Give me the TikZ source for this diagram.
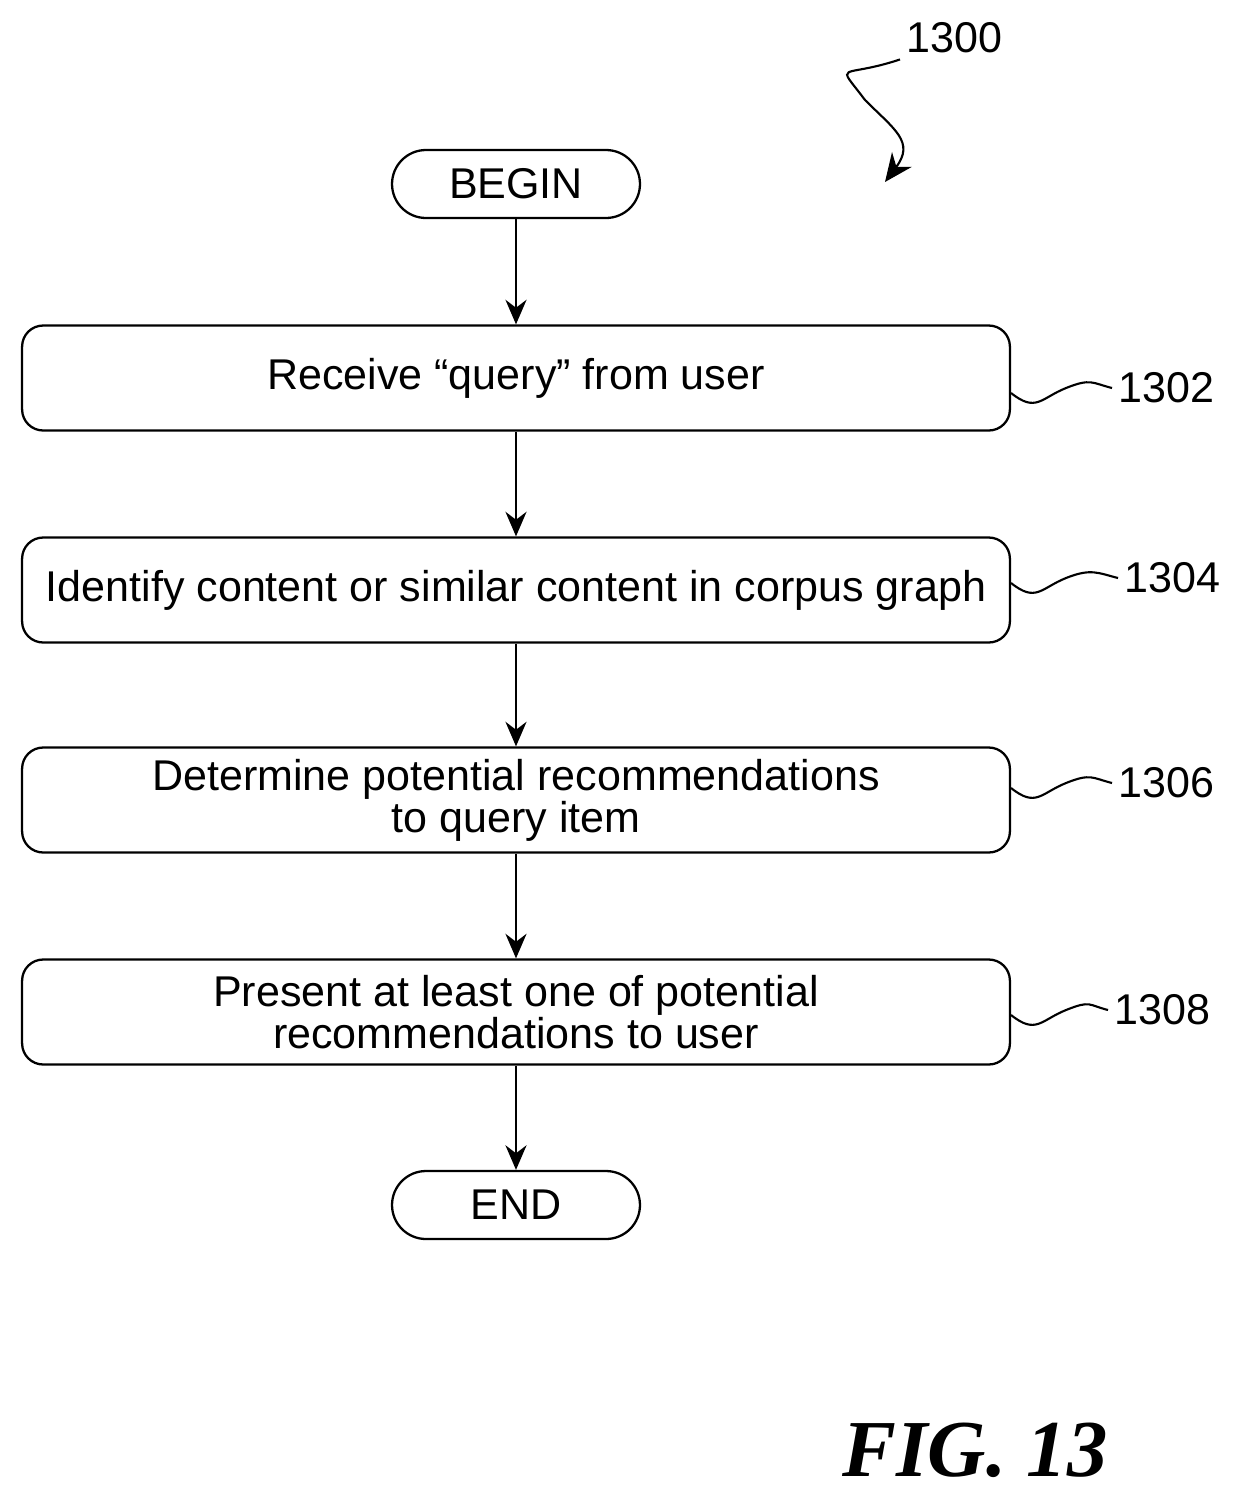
\documentclass[tikz,border=0pt]{standalone}
\usepackage{fontspec}
\setmainfont{Liberation Sans}
\newfontfamily\figfont{Liberation Serif}
\usetikzlibrary{positioning,arrows.meta}
\begin{document}
\begin{tikzpicture}[x=0.02cm,y=-0.02cm,
	stepbox/.style={draw, line width=1.3pt, rounded corners=12pt, minimum width=19.76cm, minimum height=2.1cm, align=center, font=\fontsize{24.5}{28}\selectfont},
	term/.style={draw, line width=1.3pt, rounded corners=0.68cm, minimum width=4.96cm, minimum height=1.36cm, font=\fontsize{24.5}{28}\selectfont},
	flow/.style={line width=1.3pt, -{Stealth[length=14pt,width=12pt]}},
	wave/.style={line width=1.2pt},
	tag/.style={font=\fontsize{24.5}{28}\selectfont}]
	\useasboundingbox (0,0) rectangle (1235,1498);
	
	\node[term] (begin) at (516,184) {BEGIN};
	\node[stepbox] (s1302) at (516,378) {Receive “query” from user};
	\node[stepbox] (s1304) at (516,590) {Identify content or similar content in corpus graph};
	\node[stepbox] (s1306) at (516,800) {Determine potential recommendations\\[-4pt]to query item};
	\node[stepbox] (s1308) at (516,1012) {Present at least one of potential\\[-4pt]recommendations to user};
	\node[term] (end) at (516,1205) {END};
	
	\draw[flow] (begin) -- (s1302);
	\draw[flow] (s1302) -- (s1304);
	\draw[flow] (s1304) -- (s1306);
	\draw[flow] (s1306) -- (s1308);
	\draw[flow] (s1308) -- (end);
	
	% reference numerals
	\node[tag, anchor=west] (t1302) at (1112,388) {1302};
	\node[tag, anchor=west] (t1304) at (1118,578) {1304};
	\node[tag, anchor=west] (t1306) at (1112,783) {1306};
	\node[tag, anchor=west] (t1308) at (1108,1010) {1308};
	\foreach \s/\t in {s1302/t1302, s1304/t1304, s1306/t1306, s1308/t1308}
		\draw[wave] (\s.east |- \t.west) ++(0,5) .. controls +(25,20) and +(-25,10) .. ++(55,-5) .. controls +(25,-10) and +(-20,-5) .. (\t.west);
	
	\node[tag, anchor=west] (t1300) at (900,38) {1300};
	\coordinate (p1300) at (885,182);
	\draw[wave, -{Stealth[length=16pt,width=14pt]}] (t1300.south west) .. controls +(-60,20) and +(-30,-40) .. (865,100) .. controls +(30,30) and +(30,-40) .. (p1300);
	
	\node[font=\figfont\bfseries\itshape\fontsize{46}{50}\selectfont] (fig) at (975,1450) {FIG. 13};
\end{tikzpicture}
\end{document}
